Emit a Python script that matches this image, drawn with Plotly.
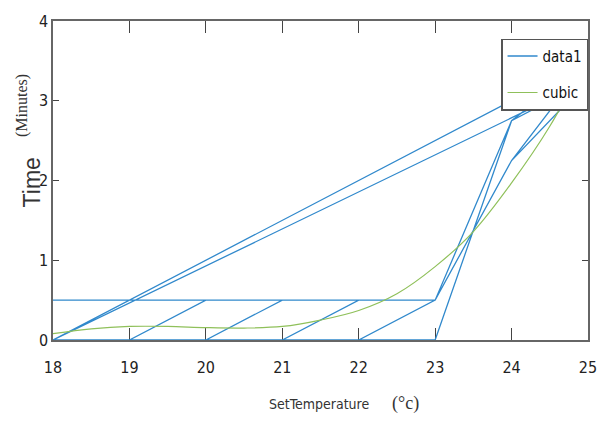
import plotly.graph_objects as go

# ---- data ----
temps = [18, 19, 20, 21, 22, 23, 24, 25]
runs = [
    [0.5, 0.5, 0.5, 0.5, 0.5, 0.5, 2.75, 3.5],
    [0, 0.5, 0.5, 0.5, 0.5, 0.5, 2.25, 3.25],
    [0, 0, 0.5, 0.5, 0.5, 0.5, 2.25, 3.5],
    [0, 0, 0, 0.5, 0.5, 0.5, 2.75, 3.5],
    [0, 0, 0, 0, 0.5, 0.5, 2.75, 3.25],
    [0, 0, 0, 0, 0, 0.5, 2.75, 3.5],
    [0, 0, 0, 0, 0, 0, 2.75, 3.5],
]
cubic_x = [18, 18.5, 19, 19.5, 20, 20.5, 21, 21.5, 22, 22.5, 23, 23.5, 24, 24.5, 25]
cubic_y = [0.08, 0.14, 0.17, 0.17, 0.155, 0.15, 0.17, 0.25, 0.37, 0.58, 0.92, 1.36, 1.97, 2.68, 3.56]
x_ticks = [18, 19, 20, 21, 22, 23, 24, 25]
y_ticks = [0, 1, 2, 3, 4]

data_x = [t for r in runs for t in temps]
data_y = [v for r in runs for v in r]

BLUE = "#3189cc"
GREEN = "#8fc05a"
NARROW = "DejaVu Sans Condensed, Liberation Sans Narrow, Arial Narrow, Liberation Sans, sans-serif"
SERIF = "Liberation Serif, Times New Roman, serif"

fig = go.Figure()
fig.add_trace(go.Scatter(x=data_x, y=data_y, mode="lines", name="data1",
                         line=dict(color=BLUE, width=1.3), legendgroup="a"))
fig.add_trace(go.Scatter(x=cubic_x, y=cubic_y, mode="lines", name="cubic",
                         line=dict(color=GREEN, width=1.2, shape="spline"), legendgroup="b"))

axis_common = dict(showgrid=False, zeroline=False, showline=True, linecolor="#666",
                   linewidth=1.5, mirror="ticks", ticks="inside", tickcolor="#444",
                   tickwidth=1.2, layer="below traces",
                   tickfont=dict(family=NARROW, size=16, color="#222"))

fig.update_layout(
    width=609, height=421,
    margin=dict(l=53, r=13, t=15, b=81),
    plot_bgcolor="white", paper_bgcolor="white",
    xaxis=dict(range=[18, 25], tickvals=x_ticks, ticklen=12, ticklabelstandoff=12, **axis_common),
    yaxis=dict(range=[0, 4], tickvals=y_ticks, ticklen=6, **axis_common),
    showlegend=True,
    legend=dict(x=0.838, y=0.945, xanchor="left", yanchor="top",
                bordercolor="#555", borderwidth=1.2, bgcolor="white",
                font=dict(family=NARROW, size=15, color="#111"),
                traceorder="grouped", tracegroupgap=14),
    annotations=[
        dict(text="SetTemperature", x=0.497, y=-0.2, xref="paper", yref="paper",
             xanchor="center", yanchor="middle",
             showarrow=False, font=dict(family=NARROW, size=14, color="#333")),
        dict(text="(°c)", x=0.658, y=-0.2, xref="paper", yref="paper",
             xanchor="center", yanchor="middle",
             showarrow=False, font=dict(family=SERIF, size=18, color="#333")),
        dict(text="Time", x=-0.0387, y=0.495, xref="paper", yref="paper", textangle=-90,
             xanchor="center", yanchor="middle",
             showarrow=False, font=dict(family="Liberation Sans, Arial, sans-serif", size=23, color="#333")),
        dict(text="(Minutes)", x=-0.059, y=0.735, xref="paper", yref="paper", textangle=-90,
             xanchor="center", yanchor="middle",
             showarrow=False, font=dict(family=SERIF, size=16, color="#333")),
    ],
)

fig.write_html("out.html")
